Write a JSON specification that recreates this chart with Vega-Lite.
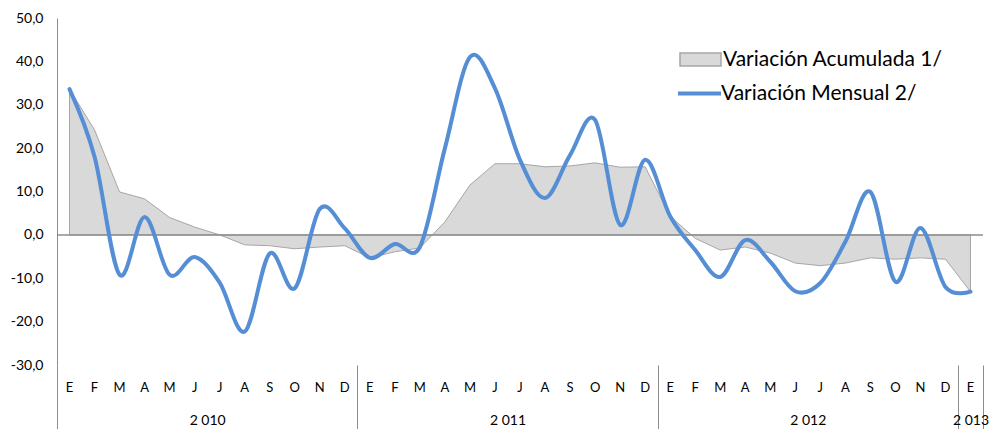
{
  "$schema": "https://vega.github.io/schema/vega-lite/v6.json",
  "width": 926,
  "height": 347,
  "autosize": {"type": "none"},
  "padding": {"left": 57, "top": 18, "right": 8, "bottom": 64},
  "config": {
    "view": {"stroke": null},
    "font": "Lato",
    "axis": {"labelFont": "Lato", "labelColor": "#000000"},
    "legend": {"labelFont": "Lato", "labelColor": "#000000", "labelLimit": 0}
  },
  "data": {
    "values": [
      {"periodo": "E 2010", "mensual": 33.6, "acumulada": 33.6},
      {"periodo": "F 2010", "mensual": 18.0, "acumulada": 24.2},
      {"periodo": "M 2010", "mensual": -9.2, "acumulada": 9.9},
      {"periodo": "A 2010", "mensual": 4.1, "acumulada": 8.3},
      {"periodo": "My 2010", "mensual": -9.2, "acumulada": 4.0},
      {"periodo": "J 2010", "mensual": -5.1, "acumulada": 1.8},
      {"periodo": "Jl 2010", "mensual": -11.0, "acumulada": 0.0},
      {"periodo": "Ag 2010", "mensual": -22.3, "acumulada": -2.3},
      {"periodo": "S 2010", "mensual": -4.3, "acumulada": -2.5},
      {"periodo": "O 2010", "mensual": -12.3, "acumulada": -3.2},
      {"periodo": "N 2010", "mensual": 6.0, "acumulada": -2.8},
      {"periodo": "D 2010", "mensual": 1.5, "acumulada": -2.5},
      {"periodo": "E 2011", "mensual": -5.3, "acumulada": -5.3},
      {"periodo": "F 2011", "mensual": -2.1, "acumulada": -3.9},
      {"periodo": "M 2011", "mensual": -2.8, "acumulada": -3.0},
      {"periodo": "A 2011", "mensual": 20.0, "acumulada": 3.0},
      {"periodo": "My 2011", "mensual": 41.0, "acumulada": 11.5},
      {"periodo": "J 2011", "mensual": 33.8, "acumulada": 16.4},
      {"periodo": "Jl 2011", "mensual": 17.3, "acumulada": 16.4},
      {"periodo": "Ag 2011", "mensual": 8.5, "acumulada": 15.7},
      {"periodo": "S 2011", "mensual": 18.4, "acumulada": 15.9},
      {"periodo": "O 2011", "mensual": 26.5, "acumulada": 16.6},
      {"periodo": "N 2011", "mensual": 2.3, "acumulada": 15.6},
      {"periodo": "D 2011", "mensual": 17.3, "acumulada": 15.7},
      {"periodo": "E 2012", "mensual": 4.3, "acumulada": 4.3},
      {"periodo": "F 2012", "mensual": -3.5, "acumulada": -0.8},
      {"periodo": "M 2012", "mensual": -9.7, "acumulada": -3.5},
      {"periodo": "A 2012", "mensual": -1.2, "acumulada": -2.8},
      {"periodo": "My 2012", "mensual": -6.2, "acumulada": -4.2},
      {"periodo": "J 2012", "mensual": -13.0, "acumulada": -6.5},
      {"periodo": "Jl 2012", "mensual": -11.1, "acumulada": -7.1},
      {"periodo": "Ag 2012", "mensual": -1.6, "acumulada": -6.5},
      {"periodo": "S 2012", "mensual": 9.9, "acumulada": -5.3},
      {"periodo": "O 2012", "mensual": -10.8, "acumulada": -5.6},
      {"periodo": "N 2012", "mensual": 1.6, "acumulada": -5.3},
      {"periodo": "D 2012", "mensual": -12.0, "acumulada": -5.6},
      {"periodo": "E 2013", "mensual": -13.1, "acumulada": -13.1}
    ]
  },
  "resolve": {"scale": {"x": "independent"}, "axis": {"x": "independent"}},
  "layer": [
    {
      "mark": {"type": "area", "stroke": "#a6a6a6", "strokeWidth": 1, "interpolate": "linear"},
      "encoding": {
        "x": {
          "field": "periodo", "type": "ordinal", "sort": null, "bandPosition": 0.5,
          "scale": {"type": "band", "paddingInner": 0, "paddingOuter": 0},
          "axis": {
            "orient": "bottom", "title": null, "domain": false, "ticks": false,
            "labelExpr": "slice(datum.label, 0, 1)", "labelAngle": 0,
            "labelPadding": 16, "labelFontSize": 13
          }
        },
        "y": {
          "field": "acumulada", "type": "quantitative",
          "scale": {"domain": [-30, 50], "nice": false, "zero": false},
          "axis": {
            "title": null, "values": [-30, -20, -10, 0, 10, 20, 30, 40, 50],
            "labelExpr": "replace(replace(format(datum.value, '.1f'), '.', ','), '−', '-')",
            "grid": false, "ticks": false, "domainColor": "#8c8c8c", "domainWidth": 1,
            "labelPadding": 14, "labelFontSize": 14
          }
        },
        "fill": {
          "datum": "Variación Acumulada 1/", "type": "nominal",
          "scale": {"range": ["#d9d9d9"]},
          "legend": {
            "orient": "none", "legendX": 622, "legendY": 20, "title": null, "padding": 0,
            "symbolType": "M-1,-0.32H1V0.32H-1Z", "symbolSize": 1681,
            "symbolStrokeColor": "#a6a6a6", "symbolStrokeWidth": 1.5,
            "labelFontSize": 21, "labelOffset": 1, "labelLimit": 0
          }
        }
      }
    },
    {
      "data": {"values": [{}]},
      "mark": {"type": "rule", "color": "#8c8c8c", "strokeWidth": 1.5},
      "encoding": {
        "x": {
          "datum": 0, "type": "quantitative",
          "scale": {"domain": [0, 37], "nice": false, "zero": false},
          "axis": {
            "orient": "bottom", "title": null, "domain": false,
            "values": [0, 6, 12, 18, 24, 30, 36, 36.5, 37],
            "tickSize": 64, "tickColor": "#8c8c8c", "tickWidth": 1,
            "tickOpacity": {"condition": {"test": "indexof([0, 12, 24, 36, 37], datum.value) >= 0", "value": 1}, "value": 0},
            "labelExpr": "datum.value == 6 ? '2 010' : datum.value == 18 ? '2 011' : datum.value == 30 ? '2 012' : datum.value == 36.5 ? '2 013' : ''",
            "labelPadding": -16, "labelFontSize": 14, "labelFlush": false, "labelOverlap": false
          }
        },
        "x2": {"datum": 37},
        "y": {"datum": 0, "type": "quantitative"}
      }
    },
    {
      "mark": {"type": "line", "interpolate": "cardinal", "strokeWidth": 4, "strokeCap": "round", "strokeJoin": "round"},
      "encoding": {
        "x": {
          "field": "periodo", "type": "ordinal", "sort": null, "bandPosition": 0.5,
          "scale": {"type": "band", "paddingInner": 0, "paddingOuter": 0},
          "axis": null
        },
        "y": {"field": "mensual", "type": "quantitative"},
        "stroke": {
          "datum": "Variación Mensual 2/", "type": "nominal",
          "scale": {"range": ["#558ed5"]},
          "legend": {
            "orient": "none", "legendX": 619, "legendY": 52, "title": null, "padding": 0,
            "symbolType": "stroke", "symbolSize": 1849, "symbolStrokeWidth": 4,
            "labelFontSize": 21, "labelOffset": -2, "labelLimit": 0
          }
        }
      }
    }
  ]
}
